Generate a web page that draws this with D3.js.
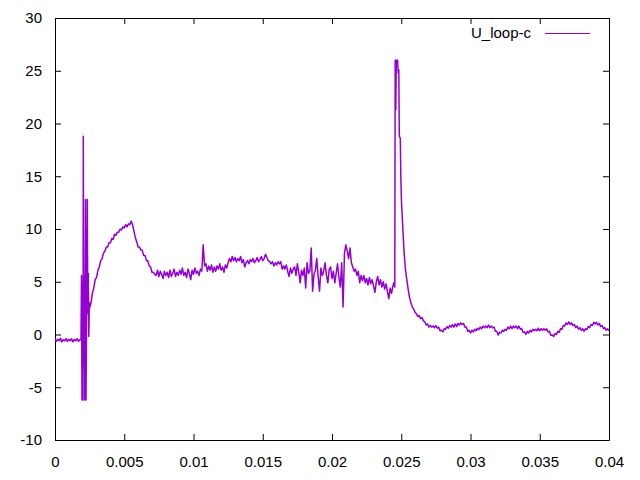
<!DOCTYPE html>
<html>
<head>
<meta charset="utf-8">
<script src="https://cdn.jsdelivr.net/npm/d3@7"></script>
<style>
  html, body { margin: 0; padding: 0; background: #fff; }
  svg text { font-family: "Liberation Sans", Arial, sans-serif; font-size: 15px; fill: #000; }
</style>
</head>
<body>
<svg id="chart" width="640" height="480"></svg>
<script>
// ---------------- data ----------------
const seriesName = "U_loop-c";
const xTickValues = [0, 0.005, 0.01, 0.015, 0.02, 0.025, 0.03, 0.035, 0.04];
const xTickLabels = ["0", "0.005", "0.01", "0.015", "0.02", "0.025", "0.03", "0.035", "0.04"];
const yTickValues = [-10, -5, 0, 5, 10, 15, 20, 25, 30];
const yTickLabels = ["-10", "-5", "0", "5", "10", "15", "20", "25", "30"];
const sampleStep = 0.0001; // s, spacing of the regularly sampled segments

// regular samples, t = 0 ... 0.0018 s
const uBefore = [-0.4,-0.65,-0.45,-0.6,-0.35,-0.7,-0.5,-0.6,-0.4,-0.65,-0.45,-0.6,-0.4,-0.7,-0.45,-0.6,-0.4,-0.65,-0.5];
const uBeforeStart = 0;

// switching burst, [t (s), U]
const uBurst = [[0.001877,-0.5],[0.001913,5.6],[0.001949,-6.2],[0.001986,5.0],[0.002022,-6.2],[0.002043,18.8],
  [0.002079,-3.0],[0.002116,5.5],[0.002152,-6.2],[0.002202,12.8],[0.002238,-6.2],[0.002274,0.0],[0.002332,12.8],
  [0.002368,2.0],[0.002404,5.8],[0.002440,-0.2],[0.002477,3.0],[0.002527,2.6]];

// regular samples, t = 0.0026 ... 0.0244 s
const uMid = [
  3.0,3.9,4.4,5.2,5.4,6.1,6.4,7.0,7.2,7.7,7.9,8.3,8.3,8.7,8.7,9.1,9.0,9.5,9.4,9.7,9.7,10.0,9.9,10.2,10.1,10.4,10.2,10.5,10.4,10.75,
  10.4,9.8,9.2,8.8,8.3,8.3,8.0,8.0,7.5,7.5,7.0,7.0,6.5,6.4,5.9,5.9,5.7,
  5.6,6.1,5.5,6.0,5.7,5.3,6.0,5.6,5.9,5.4,6.1,5.5,5.8,6.2,5.5,5.9,5.6,6.1,5.7,6.3,5.6,5.9,5.4,6.2,5.8,5.2,6.1,5.7,6.3,5.8,6.0,5.6,6.2,6.0,
  8.5,6.5,
  6.7,6.0,6.5,6.1,6.6,5.9,6.4,6.0,6.5,6.2,6.7,6.1,6.4,5.9,6.6,6.3,
  6.8,7.2,6.9,7.4,7.0,7.3,6.9,7.2,7.0,7.4,6.8,7.1,6.4,
  6.8,7.0,6.7,7.1,6.9,7.2,6.8,7.0,7.3,6.9,7.1,7.4,7.0,
  7.2,7.6,7.3,7.0,6.9,
  6.7,6.9,6.5,6.8,6.6,6.9,6.7,
  6.9,6.2,6.5,6.2,6.6,6.0,5.5,6.3,5.8,6.2,
  6.4,5.6,6.7,5.9,4.9,6.1,5.6,6.3,4.4,6.8,
  5.8,6.0,8.2,4.1,5.7,6.1,7.2,5.5,4.1,6.3,
  5.6,6.0,6.8,5.6,4.9,6.2,6.4,5.3,6.0,4.9,
  5.8,6.7,5.4,4.5,6.8,2.6,7.7,8.5,7.9,7.2,
  8.2,6.8,6.4,6.0,6.2,5.6,6.0,4.9,5.6,5.1,
  5.6,4.9,5.3,4.7,5.4,4.8,5.2,4.6,4.0,5.0,
  5.5,4.7,5.2,4.5,5.0,4.3,4.8,4.1,3.4,4.4,
  3.9,4.6];
const uMidStart = 0.0026;

// main pulse, [t (s), U]
const uPeak = [[0.024462,4.9],[0.024534,4.5],[0.024563,26.0],[0.024606,21.3],[0.024643,26.0],[0.024736,26.0],
  [0.024779,24.8],[0.024823,25.1],[0.024859,18.8],[0.024931,18.6],[0.024968,15.0],[0.025018,12.5]];

// regular samples, t = 0.0251 ... 0.04 s
const uAfter = [
  10.5,7.9,6.2,5.2,4.3,3.5,3.0,2.6,2.4,2.1,
  1.95,1.7,1.8,1.5,1.6,1.3,1.2,0.9,1.0,0.7,
  0.85,0.7,0.8,0.65,0.85,0.6,0.7,0.35,0.4,0.25,
  0.55,0.5,0.75,0.6,0.85,0.7,0.95,0.7,1.0,0.75,
  1.05,0.9,1.1,0.95,1.05,0.7,0.7,0.3,0.4,0.15,
  0.4,0.25,0.5,0.35,0.6,0.45,0.7,0.55,0.8,0.65,
  0.8,0.65,0.9,0.65,0.8,0.65,0.7,0.3,0.3,-0.05,
  0.2,0.15,0.4,0.3,0.5,0.4,0.7,0.55,0.8,0.55,
  0.8,0.65,0.8,0.55,0.8,0.5,0.55,0.2,0.25,0.0,
  0.3,0.15,0.4,0.25,0.5,0.35,0.5,0.35,0.6,0.35,
  0.55,0.4,0.55,0.4,0.55,0.25,0.3,-0.1,-0.05,-0.2,
  0.1,0.0,0.3,0.2,0.55,0.5,0.85,0.8,1.1,0.95,
  1.2,0.95,1.1,0.85,0.95,0.65,0.8,0.5,0.65,0.4,
  0.55,0.3,0.55,0.45,0.75,0.65,0.95,0.85,1.15,1.0,
  1.15,0.9,1.05,0.75,0.85,0.55,0.65,0.4,0.55,0.35];
const uAfterStart = 0.0251;

// ---------------- build series ----------------
const regular = (vals, t0) => vals.map((v, i) => [t0 + i * sampleStep, v]);
const series = [].concat(
  regular(uBefore, uBeforeStart),
  uBurst,
  regular(uMid, uMidStart),
  uPeak,
  regular(uAfter, uAfterStart)
).sort((a, b) => a[0] - b[0]);

// ---------------- layout ----------------
const plotLeft = 55, plotRight = 609, plotTop = 18, plotBottom = 440;
const color = "#9400d3";
const svg = d3.select("#chart");

const x = d3.scaleLinear().domain([0, 0.04]).range([plotLeft, plotRight]);
const y = d3.scaleLinear().domain([-10, 30]).range([plotBottom, plotTop]);

// axes (inward ticks, mirrored)
const tickLen = 6;
const gx = svg.append("g").attr("transform", `translate(0,${plotBottom})`)
  .call(d3.axisBottom(x).tickValues(xTickValues).tickFormat((d, i) => xTickLabels[i])
    .tickSizeInner(-tickLen).tickSizeOuter(0).tickPadding(16));
const gy = svg.append("g").attr("transform", `translate(${plotLeft},0)`)
  .call(d3.axisLeft(y).tickValues(yTickValues).tickFormat((d, i) => yTickLabels[i])
    .tickSizeInner(-tickLen).tickSizeOuter(0).tickPadding(13));
const gt = svg.append("g").attr("transform", `translate(0,${plotTop})`)
  .call(d3.axisTop(x).tickValues(xTickValues).tickFormat("").tickSizeInner(-tickLen).tickSizeOuter(0));
const gr = svg.append("g").attr("transform", `translate(${plotRight},0)`)
  .call(d3.axisRight(y).tickValues(yTickValues).tickFormat("").tickSizeInner(-tickLen).tickSizeOuter(0));

[gx, gy, gt, gr].forEach(g => {
  g.attr("font-family", null).attr("font-size", null);
  g.selectAll("path.domain").attr("stroke", "#000").attr("stroke-width", 1);
  g.selectAll(".tick line").attr("stroke", "#000").attr("stroke-width", 1);
});
gx.selectAll(".tick text").attr("fill", "#000");
gy.selectAll(".tick text").attr("fill", "#000");

// data line
svg.append("defs").append("clipPath").attr("id", "plotclip")
  .append("rect").attr("x", plotLeft).attr("y", plotTop)
  .attr("width", plotRight - plotLeft).attr("height", plotBottom - plotTop);

const line = d3.line().x(d => x(d[0])).y(d => y(d[1]));
svg.append("path")
  .datum(series)
  .attr("clip-path", "url(#plotclip)")
  .attr("fill", "none")
  .attr("stroke", color)
  .attr("stroke-width", 1.5)
  .attr("stroke-linejoin", "round")
  .attr("d", line);

// legend
const key = svg.append("g");
key.append("text").attr("x", 531).attr("y", 33).attr("dy", "0.35em")
  .attr("text-anchor", "end").text(seriesName);
key.append("line").attr("x1", 545).attr("x2", 590).attr("y1", 33.5).attr("y2", 33.5)
  .attr("stroke", color).attr("stroke-width", 1);
</script>
</body>
</html>
